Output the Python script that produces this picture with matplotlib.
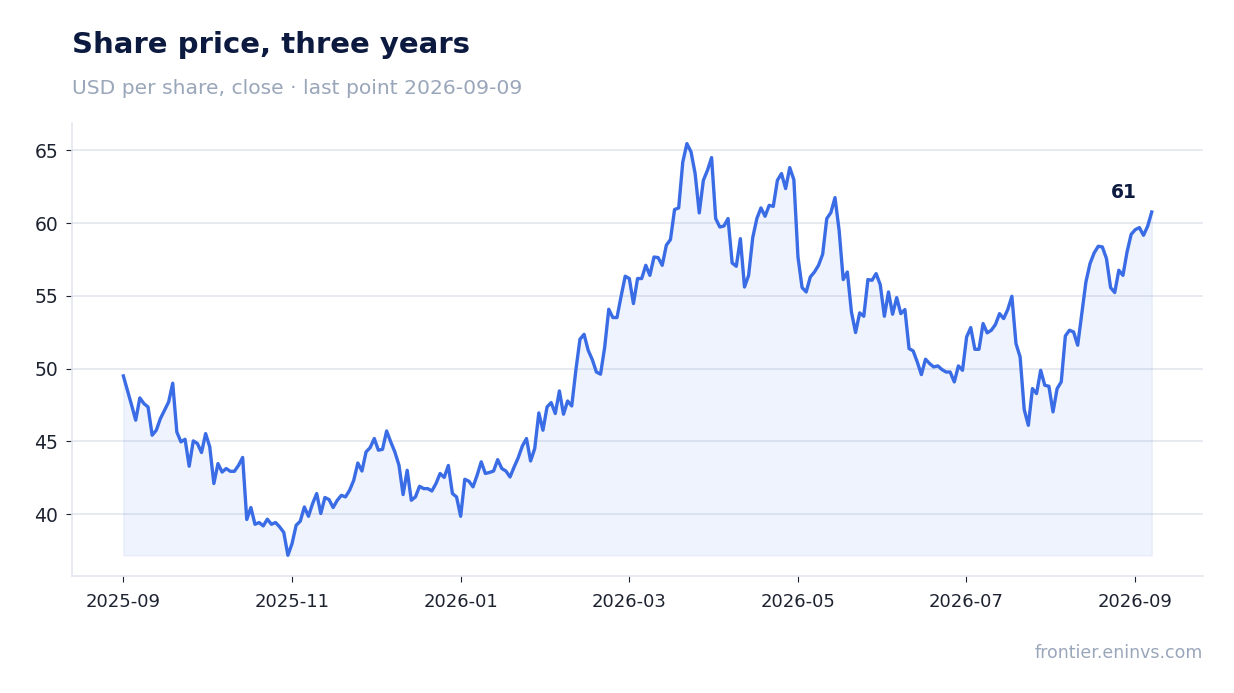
import numpy as np
import pandas as pd
import matplotlib.pyplot as plt

# close prices, oldest first
close = [
    49.5, 48.5, 47.5, 46.46, 47.99, 47.6, 47.37, 45.43, 45.77, 46.57, 47.14, 47.71, 49.0,
    45.65, 44.97, 45.15, 43.3, 45.04, 44.86, 44.24, 45.54, 44.63, 42.11, 43.48, 42.9,
    43.14, 42.95, 42.95, 43.36, 43.9, 39.64, 40.46, 39.31, 39.43, 39.2, 39.66, 39.31,
    39.43, 39.13, 38.75, 37.18, 37.98, 39.24, 39.52,
    40.5, 39.86, 40.73, 41.42, 40.05, 41.15, 41.01, 40.46, 40.96, 41.3, 41.19, 41.65,
    42.33, 43.52, 42.97, 44.28, 44.58, 45.2, 44.4, 44.46, 45.72, 44.97, 44.28, 43.37,
    41.35, 43.02, 40.96, 41.19, 41.92, 41.76, 41.76, 41.6, 42.11, 42.8, 42.53, 43.35,
    41.42, 41.19, 39.86, 42.4, 42.27, 41.88,
    42.68, 43.6, 42.8, 42.87, 42.97, 43.75, 43.14, 42.97, 42.56, 43.25, 43.89, 44.69,
    45.2, 43.66, 44.51, 46.96, 45.77, 47.37, 47.67, 46.92, 48.47, 46.87, 47.78, 47.44,
    49.89, 52.02, 52.36, 51.26, 50.62, 49.77, 49.62, 51.45, 54.08, 53.51, 53.51, 54.97,
    56.35, 56.19, 54.47, 56.19, 56.19, 57.1, 56.41,
    57.67, 57.63, 57.1, 58.48, 58.87, 60.93, 61.04, 64.2, 65.46, 64.89, 63.4, 60.7,
    62.94, 63.63, 64.5, 60.31, 59.73, 59.8, 60.31, 57.26, 57.03, 58.93, 55.61, 56.41,
    59.0, 60.31, 61.04, 60.47, 61.22, 61.15, 62.94, 63.4, 62.37, 63.81, 62.98,
    57.67, 55.57, 55.27, 56.3, 56.64, 57.1, 57.86, 60.31, 60.72, 61.75, 59.51, 56.12,
    56.64, 53.89, 52.48, 53.83, 53.6, 56.12, 56.07, 56.53, 55.77, 53.6, 55.27, 53.74,
    54.88, 53.78, 54.06, 51.38, 51.22, 50.46, 49.59, 50.65, 50.35, 50.12, 50.19, 49.94,
    49.77, 49.77, 49.09, 50.19, 49.89, 52.18, 52.82, 51.33, 51.33,
    53.1, 52.46, 52.64, 53.03, 53.78, 53.44, 54.06, 54.97, 51.72, 50.81, 47.19, 46.11,
    48.63, 48.29, 49.89, 48.86, 48.79, 47.03, 48.63, 49.09, 52.25, 52.64, 52.52, 51.61,
    53.78, 55.96, 57.22, 57.95, 58.41, 58.36, 57.56, 55.57, 55.23, 56.76, 56.41, 58.02,
    59.23, 59.55, 59.69, 59.16, 59.78, 60.76,
]
start_date = '2025-09-01'
end_date = '2026-09-07'
x_ticklabels = ['2025-09', '2025-11', '2026-01', '2026-03', '2026-05', '2026-07', '2026-09']
y_ticks = [40, 45, 50, 55, 60, 65]

# x axis in months since start (each month the same width)
start = pd.Timestamp(start_date)
end = pd.Timestamp(end_date)
end_pos = (end.year - start.year) * 12 + end.month - start.month + (end.day - 1) / end.days_in_month
df = pd.DataFrame({'pos': np.linspace(0, end_pos, len(close)), 'close': close})

blue = '#3a6ce6'
navy = '#0c1a40'
grey = '#9aa6ba'

fig = plt.figure(figsize=(12.34, 6.93), dpi=100)
ax = fig.add_axes([0.0583, 0.169, 0.9167, 0.6535])

ax.plot(df['pos'], df['close'], color=blue, lw=2.4, zorder=3)
ax.fill_between(df['pos'], df['close'], df['close'].min(), color=blue, alpha=0.08, zorder=2)

ax.set_yticks(y_ticks)
ax.set_xticks(range(0, 2 * len(x_ticklabels), 2))
ax.set_xticklabels(x_ticklabels)
ax.grid(axis='y', color='#e3e7ef', lw=1.2)
ax.set_axisbelow(True)
for side in ['top', 'right']:
    ax.spines[side].set_visible(False)
for side in ['left', 'bottom']:
    ax.spines[side].set_color('#e3e7ef')
    ax.spines[side].set_linewidth(1.2)
ax.tick_params(axis='y', labelsize=13.5, colors='#1c2230', length=4, pad=6)
ax.tick_params(axis='x', labelsize=13, colors='#1c2230', length=4, pad=8)

last = df.iloc[-1]
ax.annotate(f"{last['close']:.0f}", (last['pos'], last['close']),
            xytext=(-20, 14), textcoords='offset points', ha='center', va='center',
            fontsize=13.5, fontweight='bold', color=navy)

fig.text(0.0583, 0.923, 'Share price, three years', fontsize=21, fontweight='bold',
         color=navy, va='baseline')
fig.text(0.0583, 0.864, 'USD per share, close · last point 2026-09-09', fontsize=14.6,
         color=grey, va='baseline')
fig.text(0.975, 0.05, 'frontier.eninvs.com', fontsize=12.5, color=grey,
         ha='right', va='baseline')

fig.savefig('out.png', dpi=100)
